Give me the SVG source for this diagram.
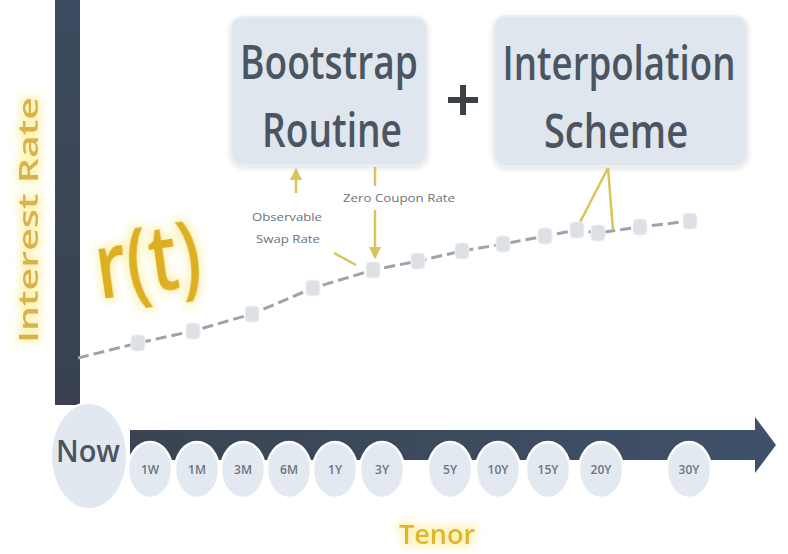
<svg xmlns="http://www.w3.org/2000/svg" width="788" height="554" viewBox="0 0 788 554">
<defs>
<style>
.box{fill:#dfe6ee;stroke:#e9eef4;stroke-width:2}
.boxt{font-family:"Open Sans","Liberation Sans",sans-serif;font-weight:600;font-size:47px;fill:#4b5561;text-anchor:middle}
.tc{fill:#e3e9f0;stroke:#ffffff;stroke-width:2.5}
.tl{font-family:"Open Sans","Liberation Sans",sans-serif;font-weight:600;font-size:12px;fill:#6c7580;text-anchor:middle}
.gold{fill:#ddb021}
.ann{stroke:#d9c45a;stroke-width:2.5;fill:none}
.note{font-family:"Open Sans","Liberation Sans",sans-serif;font-size:11px;fill:#6c737c}
.pt{fill:#dde1e6;stroke:#eef0f3;stroke-width:1}
</style>
<linearGradient id="barg" x1="0" y1="0" x2="1" y2="0">
<stop offset="0" stop-color="#3a4452"/>
<stop offset="1" stop-color="#3f5169"/>
</linearGradient>
<linearGradient id="yg" x1="0" y1="0" x2="0" y2="1">
<stop offset="0" stop-color="#3d4a5f"/>
<stop offset="1" stop-color="#39424e"/>
</linearGradient>
<filter id="glow" x="-20%" y="-20%" width="140%" height="140%">
<feMorphology in="SourceAlpha" operator="dilate" radius="3" result="d"/>
<feGaussianBlur in="d" stdDeviation="4" result="b"/>
<feFlood flood-color="#fbf0a8" flood-opacity="0.8"/>
<feComposite in2="b" operator="in" result="g"/>
<feMerge><feMergeNode in="g"/><feMergeNode in="SourceGraphic"/></feMerge>
</filter>
<filter id="sh" x="-10%" y="-10%" width="120%" height="120%">
<feGaussianBlur in="SourceAlpha" stdDeviation="3"/>
<feOffset dx="0" dy="2" result="o"/>
<feComponentTransfer><feFuncA type="linear" slope="0.12"/></feComponentTransfer>
<feMerge><feMergeNode/><feMergeNode in="SourceGraphic"/></feMerge>
</filter>
<marker id="ah" viewBox="0 0 10 10" refX="9" refY="5" markerWidth="5" markerHeight="5" orient="auto-start-reverse">
<path d="M0,0 L10,5 L0,10 z" fill="#d9c45a"/>
</marker>
</defs>
<rect width="788" height="554" fill="#ffffff"/>

<!-- Axes -->
<g id="y-axis">
<rect x="55" y="0" width="25" height="405" fill="url(#yg)"/>
<text transform="translate(38,220) rotate(-90)" text-anchor="middle" font-family="Open Sans, Liberation Sans, sans-serif" font-weight="600" font-size="27" fill="#d8b34c" textLength="246" lengthAdjust="spacingAndGlyphs" filter="url(#glow)">Interest Rate</text>
</g>
<g id="x-axis">
<path d="M130,430 L755,430 L755,417 L776,445 L755,473 L755,460 L130,460 Z" fill="url(#barg)"/>
<text x="437" y="544" text-anchor="middle" font-family="Open Sans, Liberation Sans, sans-serif" font-weight="600" font-size="27" fill="#e0b52a" filter="url(#glow)">Tenor</text>
</g>

<!-- Now -->
<g id="now">
<ellipse cx="89" cy="456" rx="38" ry="53" fill="#e2e8f0" stroke="#ffffff" stroke-width="2"/>
<text x="88" y="462" text-anchor="middle" font-family="Open Sans, Liberation Sans, sans-serif" font-weight="600" font-size="30" fill="#4b5561" textLength="64" lengthAdjust="spacingAndGlyphs">Now</text>
</g>

<!-- Tenors -->
<g id="tenors">
<g id="t-1W"><ellipse class="tc" cx="150" cy="470" rx="22" ry="28"/><text class="tl" x="150" y="474">1W</text></g>
<g id="t-1M"><ellipse class="tc" cx="197" cy="470" rx="22" ry="28"/><text class="tl" x="197" y="474">1M</text></g>
<g id="t-3M"><ellipse class="tc" cx="243" cy="470" rx="22" ry="28"/><text class="tl" x="243" y="474">3M</text></g>
<g id="t-6M"><ellipse class="tc" cx="289" cy="470" rx="22" ry="28"/><text class="tl" x="289" y="474">6M</text></g>
<g id="t-1Y"><ellipse class="tc" cx="335" cy="470" rx="22" ry="28"/><text class="tl" x="335" y="474">1Y</text></g>
<g id="t-3Y"><ellipse class="tc" cx="382" cy="470" rx="22" ry="28"/><text class="tl" x="382" y="474">3Y</text></g>
<g id="t-5Y"><ellipse class="tc" cx="450" cy="470" rx="22" ry="28"/><text class="tl" x="450" y="474">5Y</text></g>
<g id="t-10Y"><ellipse class="tc" cx="498" cy="470" rx="22" ry="28"/><text class="tl" x="498" y="474">10Y</text></g>
<g id="t-15Y"><ellipse class="tc" cx="548" cy="470" rx="22" ry="28"/><text class="tl" x="548" y="474">15Y</text></g>
<g id="t-20Y"><ellipse class="tc" cx="601" cy="470" rx="22" ry="28"/><text class="tl" x="601" y="474">20Y</text></g>
<g id="t-30Y"><ellipse class="tc" cx="689" cy="470" rx="22" ry="28"/><text class="tl" x="689" y="474">30Y</text></g>
</g>

<!-- r(t) -->
<g id="rt">
<text transform="translate(152,292) rotate(-8)" text-anchor="middle" font-family="Open Sans, Liberation Sans, sans-serif" font-weight="600" font-size="92" class="gold" textLength="106" lengthAdjust="spacingAndGlyphs" filter="url(#glow)">r(t)</text>
</g>

<!-- Boxes -->
<g id="bootstrap">
<rect class="box" x="231" y="17" width="196" height="148" rx="12" filter="url(#sh)"/>
<text class="boxt" transform="translate(329,79) scale(0.79,1)">Bootstrap</text>
<text class="boxt" transform="translate(332,147) scale(0.79,1)">Routine</text>
</g>
<g id="plus">
<rect x="448" y="97" width="30" height="6" fill="#3b4048"/>
<rect x="460" y="85" width="6" height="30" fill="#3b4048"/>
</g>
<g id="interpolation">
<rect class="box" x="494" y="16" width="253" height="150" rx="12" filter="url(#sh)"/>
<text class="boxt" transform="translate(619,80) scale(0.78,1)">Interpolation</text>
<text class="boxt" transform="translate(616,148) scale(0.81,1)">Scheme</text>
</g>

<!-- Curve and connectors -->
<g id="connectors">
<polyline points="78,358 138,343 193,331 252,314 313,288 373,270 418,261 462,251 503,244 545,236 577,230 598,233 640,227 690,221" fill="none" stroke="#9ea3aa" stroke-width="3" stroke-dasharray="11 5"/>
<line class="ann" x1="296" y1="193" x2="296" y2="169" marker-end="url(#ah)"/>
<line class="ann" x1="375" y1="167" x2="375" y2="186"/>
<line class="ann" x1="375" y1="210" x2="375" y2="258" marker-end="url(#ah)"/>
<line class="ann" x1="334" y1="253" x2="356" y2="265"/>
<line class="ann" x1="608" y1="168" x2="577" y2="228"/>
<line class="ann" x1="608" y1="168" x2="613" y2="230"/>
</g>

<g id="points">
<rect class="pt" x="131" y="335" width="14" height="16" rx="4"/>
<rect class="pt" x="186" y="323" width="14" height="16" rx="4" fill="#e2e8d8"/>
<rect class="pt" x="245" y="306" width="14" height="16" rx="4"/>
<rect class="pt" x="306" y="280" width="14" height="16" rx="4"/>
<rect class="pt" x="366" y="262" width="14" height="16" rx="4"/>
<rect class="pt" x="411" y="253" width="14" height="16" rx="4"/>
<rect class="pt" x="455" y="243" width="14" height="16" rx="4"/>
<rect class="pt" x="496" y="236" width="14" height="16" rx="4"/>
<rect class="pt" x="538" y="228" width="14" height="16" rx="4"/>
<rect class="pt" x="570" y="222" width="14" height="16" rx="4"/>
<rect class="pt" x="591" y="225" width="14" height="16" rx="4"/>
<rect class="pt" x="633" y="219" width="14" height="16" rx="4"/>
<rect class="pt" x="683" y="213" width="14" height="16" rx="4"/>
</g>

<!-- Notes -->
<g id="note-swap">
<text class="note" x="252" y="221" textLength="70" lengthAdjust="spacingAndGlyphs">Observable</text>
<text class="note" x="256" y="243" textLength="64" lengthAdjust="spacingAndGlyphs">Swap Rate</text>
</g>
<g id="note-zero">
<text class="note" x="343" y="202" textLength="112" lengthAdjust="spacingAndGlyphs">Zero Coupon Rate</text>
</g>
</svg>
